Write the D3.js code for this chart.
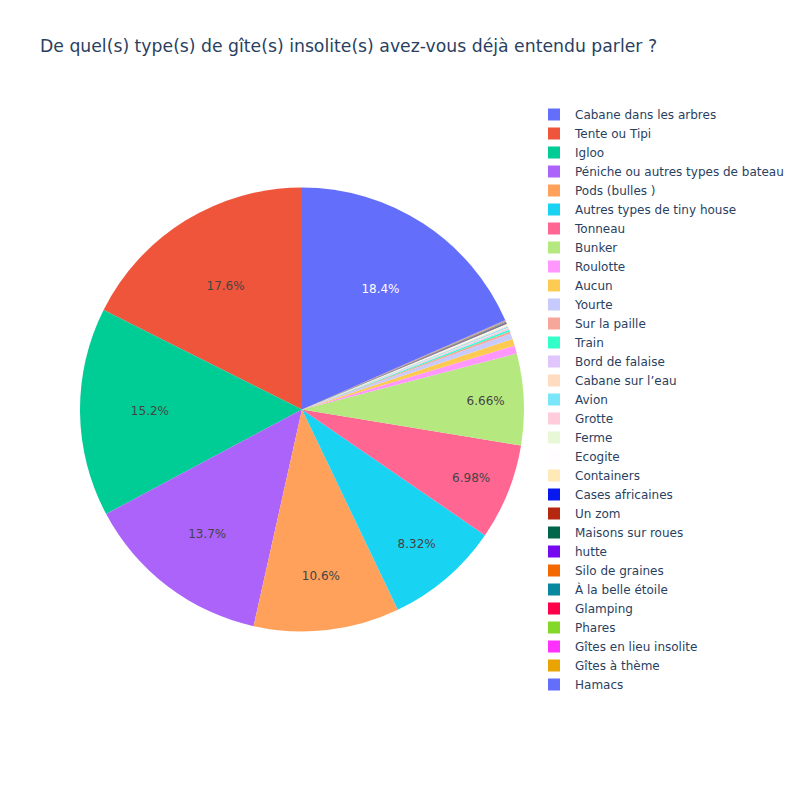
<!DOCTYPE html>
<html>
<head>
<meta charset="utf-8">
<script src="https://cdn.jsdelivr.net/npm/d3@7"></script>
<style>
  html, body { margin: 0; padding: 0; background: #fff; }
  svg { display: block; font-family: "DejaVu Sans", verdana, arial, sans-serif; }
</style>
</head>
<body>
<div id="chart"></div>
<script>
// ---- data ----
const title = "De quel(s) type(s) de gîte(s) insolite(s) avez-vous déjà entendu parler ?";
const categories = [
  "Cabane dans les arbres", "Tente ou Tipi", "Igloo", "Péniche ou autres types de bateau",
  "Pods (bulles )", "Autres types de tiny house", "Tonneau", "Bunker", "Roulotte", "Aucun",
  "Yourte", "Sur la paille", "Train", "Bord de falaise", "Cabane sur l’eau", "Avion",
  "Grotte", "Ferme", "Ecogite", "Containers", "Cases africaines", "Un zom",
  "Maisons sur roues", "hutte", "Silo de graines", "À la belle étoile", "Glamping",
  "Phares", "Gîtes en lieu insolite", "Gîtes à thème", "Hamacs"
];
const values = [
  18.4, 17.6, 15.2, 13.7, 10.6, 8.32, 6.98, 6.66, 0.58, 0.50,
  0.42, 0.16, 0.12, 0.10, 0.08, 0.08, 0.06, 0.06, 0.04, 0.04,
  0.027, 0.027, 0.027, 0.027, 0.027, 0.027, 0.027, 0.027, 0.027, 0.027, 0.027
];
// Plotly default colorway (extended for pies: base, lightened, darkened)
const colorway = ["#636efa", "#EF553B", "#00cc96", "#ab63fa", "#FFA15A",
                  "#19d3f3", "#FF6692", "#B6E880", "#FF97FF", "#FECB52"];

// ---- layout ----
const W = 800, H = 800;
const cx = 302, cy = 409.5, R = 222;

function shift(c, amt) {
  const h = d3.hsl(c);
  h.l = Math.max(0, Math.min(1, h.l + amt));
  return h.formatHex();
}
const palette = colorway
  .concat(colorway.map(c => shift(c, 0.2)))
  .concat(colorway.map(c => shift(c, -0.2)));
const color = i => palette[i % palette.length];

function textColorFor(c) {
  const rgb = d3.rgb(c);
  const brightness = (rgb.r * 299 + rgb.g * 587 + rgb.b * 114) / 1000;
  return brightness < 128 ? "#ffffff" : "#444444";
}

const svg = d3.select("#chart").append("svg")
  .attr("width", W).attr("height", H);

svg.append("rect").attr("width", W).attr("height", H).attr("fill", "#fff");

svg.append("text")
  .attr("x", 40).attr("y", 52)
  .attr("font-size", 17.25)
  .attr("fill", "#2a3f5f")
  .text(title);

const total = d3.sum(values);
const start = 2 * Math.PI * values[0] / total;
const pie = d3.pie().sort(null).value(d => d)
  .startAngle(start).endAngle(start - 2 * Math.PI);
const arcs = pie(values);
const arc = d3.arc().innerRadius(0).outerRadius(R);

const g = svg.append("g").attr("transform", `translate(${cx},${cy})`);

g.selectAll("path.slice").data(arcs).enter().append("path")
  .attr("class", "slice")
  .attr("d", arc)
  .attr("fill", (d, i) => color(i));

const fmt = d3.format(".3~r");
arcs.forEach((a, i) => {
  const half = Math.abs(a.endAngle - a.startAngle) / 2;
  const mid = (a.startAngle + a.endAngle) / 2;
  const rIns = Math.min(1 / (1 + 1 / Math.sin(Math.min(half, Math.PI / 2))), 0.5);
  const rC = 1 - rIns;
  const label = fmt(100 * a.value / total) + "%";
  const t = g.append("text")
    .attr("font-size", 12)
    .attr("text-anchor", "middle")
    .attr("dominant-baseline", "central")
    .attr("fill", textColorFor(color(i)))
    .attr("x", R * rC * Math.sin(mid))
    .attr("y", -R * rC * Math.cos(mid))
    .text(label);
  const bb = t.node().getBBox();
  const diam = Math.sqrt(bb.width * bb.width + bb.height * bb.height);
  if (rIns * R * 2 / diam < 1) t.remove();
});

// ---- legend ----
const legend = svg.append("g").attr("transform", "translate(554,114.5)");
categories.forEach((c, i) => {
  const row = legend.append("g").attr("transform", `translate(0,${i * 19})`);
  row.append("rect")
    .attr("x", -6).attr("y", -6).attr("width", 12).attr("height", 12)
    .attr("fill", color(i));
  row.append("text")
    .attr("x", 21).attr("y", 0.5)
    .attr("dominant-baseline", "central")
    .attr("font-size", 12)
    .attr("fill", "#2a3f5f")
    .text(c);
});
</script>
</body>
</html>
